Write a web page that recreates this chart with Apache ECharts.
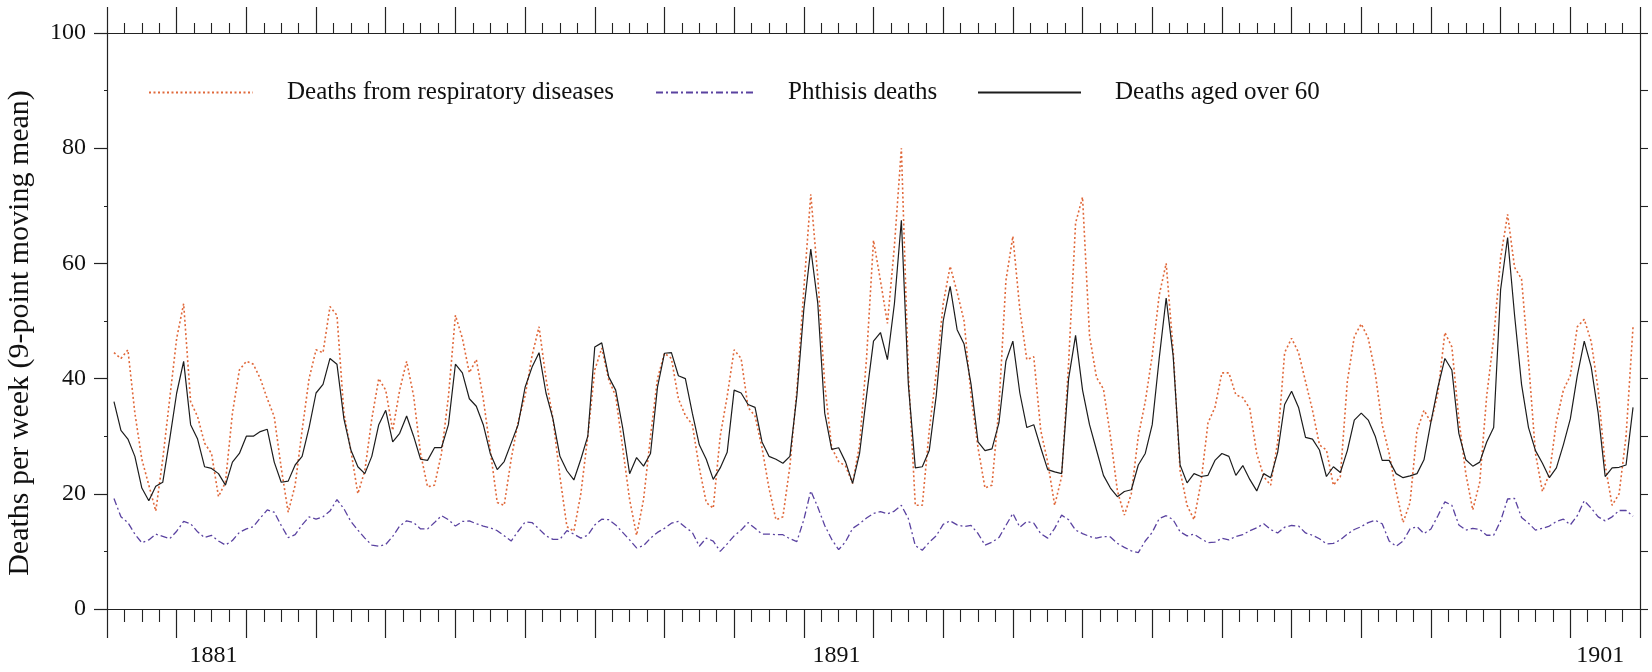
<!DOCTYPE html>
<html>
<head>
<meta charset="utf-8">
<title>Deaths per week</title>
<script src="https://cdn.jsdelivr.net/npm/echarts@6/dist/echarts.min.js"></script>
<style>
  html, body { margin: 0; padding: 0; background: #fff; }
  #chart { width: 1652px; height: 672px; }
</style>
</head>
<body>
<div id="chart"></div>
<script>
// weekly series sampled every 0.1 year, first sample at 1880.1
const startYear = 1880.1
const step = 0.1

const respiratory = [
  44.5, 43.5, 45, 34, 26, 21.5, 17, 26, 36.5, 47,
  53, 36, 33.4, 28.8, 27, 19.5, 22, 34, 41.5, 43,
  42.5, 40, 36.5, 33.4, 24.5, 16.8, 21.5, 31, 40, 45,
  44.5, 52.5, 51, 34, 27.5, 20, 24, 33, 40, 38,
  31, 38, 43, 37, 27, 21.2, 21.5, 27, 36.9, 51,
  47, 41, 43.3, 36.5, 27.6, 18.5, 18, 26, 32.5, 37,
  44, 49, 40, 33, 23, 14.3, 13.5, 20, 30, 41.5,
  45.3, 39.8, 37, 28, 19, 12.8, 19, 30, 40, 44.4,
  43.5, 36.5, 33.6, 32, 24.5, 18.5, 17.5, 30, 36.9, 45,
  43.5, 35, 33.5, 28, 21, 15.5, 16, 24.8, 38, 55.5,
  72, 57.7, 39, 28, 25.6, 24.8, 21.8, 28.5, 43.5, 64,
  57, 49.6, 63, 80, 41, 18, 18, 31, 41, 53,
  59.5, 55, 50, 37, 28, 21, 21.5, 35, 57, 64.7,
  52, 43.3, 43.8, 31, 25.5, 18, 23, 42.7, 67, 71.5,
  47.5, 40.2, 38.2, 30, 20.5, 16.3, 20, 30, 36, 44,
  54.5, 60, 45, 24, 18, 15.5, 22, 32.3, 35, 41,
  41, 37.2, 36.7, 34.8, 27, 23, 21.5, 29, 44.5, 47,
  44.5, 39.5, 34.5, 28.5, 27.6, 21.5, 23, 39.5, 47.3, 49.5,
  47, 41, 32, 27, 20.5, 15, 18.5, 31, 34.5, 32.4,
  37.5, 48, 45.5, 33, 23.5, 17.2, 22, 37, 47, 61,
  68.5, 59.3, 57.3, 43, 27, 20.4, 23.5, 32.5, 38, 40.5,
  49, 50.3, 46.4, 38, 25, 18, 20, 30, 49
]

const phthisis = [
  19.2, 16, 15, 13, 11.5, 12, 13, 12.6, 12.2, 13.5,
  15.2, 14.8, 13.4, 12.4, 12.8, 11.8, 11.1, 11.9, 13.3, 13.9,
  14.3, 15.8, 17.2, 16.8, 14.5, 12.4, 12.9, 14.6, 16, 15.6,
  16, 17, 19, 17.4, 15.2, 13.7, 12.3, 11.1, 10.9, 11.2,
  12.6, 14.4, 15.3, 15, 13.9, 13.9, 15, 16.2, 15.5, 14.4,
  15.2, 15.3, 14.8, 14.4, 14.1, 13.6, 12.7, 11.8, 13.5, 15.1,
  15, 13.9, 12.7, 12.1, 12.1, 13.6, 13, 12.3, 12.8, 14.6,
  15.6, 15.5, 14.6, 13.3, 12, 10.6, 11, 12.3, 13.3, 14,
  14.9, 15.2, 14.2, 13.3, 10.9, 12.3, 11.8, 10, 11.3, 12.7,
  13.7, 15, 14, 13, 13, 12.9, 12.9, 12.2, 11.7, 15.5,
  20.5, 17.7, 14.5, 12.1, 10.3, 11.7, 14, 14.8, 15.8, 16.6,
  16.9, 16.5, 17, 18, 15.7, 11, 10.2, 11.6, 12.7, 14.7,
  15.3, 14.6, 14.3, 14.5, 13.1, 11.1, 11.6, 12.4, 14.5, 16.6,
  14.2, 15.2, 14.9, 13.1, 12.3, 14, 16.3, 15.5, 13.7, 13.1,
  12.6, 12.3, 12.6, 12.5, 11.4, 10.7, 10.1, 9.8, 11.8, 13.3,
  15.7, 16.2, 15.5, 13.4, 12.7, 13, 12.2, 11.5, 11.6, 12.3,
  12, 12.6, 12.9, 13.6, 14.1, 14.8, 13.8, 13.2, 14.2, 14.5,
  14.4, 13.2, 12.8, 12.2, 11.3, 11.4, 12, 13, 13.8, 14.3,
  15, 15.4, 14.8, 11.8, 10.9, 11.8, 13.9, 14.3, 13.1, 13.9,
  16.2, 18.6, 18, 14.6, 13.7, 14, 13.8, 12.8, 12.8, 15.3,
  19.1, 19.2, 15.9, 14.9, 13.7, 14, 14.4, 15.2, 15.6, 14.6,
  16.2, 18.8, 17.5, 16, 15.3, 16, 17.1, 17.1, 16.1
]

const over60 = [
  36, 31, 29.5, 26.5, 21, 18.8, 21.3, 22, 29.5, 37.5,
  43, 32, 29.5, 24.7, 24.4, 23.5, 21.5, 25.5, 27, 30,
  30, 30.8, 31.2, 25.5, 22, 22.2, 25, 26.5, 31.5, 37.5,
  39, 43.5, 42.5, 33, 27.6, 24.7, 23.5, 26.5, 32, 34.5,
  29, 30.5, 33.5, 30, 26, 25.8, 28, 28, 32, 42.5,
  41, 36.5, 35.2, 32, 27, 24.2, 25.6, 28.8, 32, 38.5,
  42, 44.5, 37.5, 33, 26.5, 24, 22.4, 26, 30, 45.5,
  46.2, 40.3, 38, 31.5, 23.5, 26.3, 24.8, 27, 38.5, 44.4,
  44.5, 40.5, 40, 34, 28.5, 26, 22.5, 24.5, 27.2, 38,
  37.5, 35.5, 35, 29, 26.5, 26, 25.3, 26.5, 37, 52,
  62.5, 53.1, 34, 27.7, 28, 25.5, 21.8, 27, 37, 46.5,
  48, 43.3, 53, 67.5, 39, 24.5, 24.7, 27.5, 37, 50,
  56, 48.5, 46, 39, 29, 27.5, 27.8, 32.3, 43, 46.5,
  37.5, 31.5, 32, 28, 24.2, 23.8, 23.5, 40, 47.5, 38,
  32, 27.6, 23.2, 21, 19.5, 20.4, 20.7, 25, 27, 32,
  43.5, 54, 44, 25, 21.9, 23.5, 23, 23.2, 25.8, 27,
  26.5, 23.2, 24.9, 22.5, 20.5, 23.5, 22.8, 27.2, 35.5, 37.8,
  35, 29.8, 29.5, 27.6, 23, 24.7, 23.7, 27.5, 32.8, 34,
  32.8, 30, 25.8, 25.8, 23.5, 22.8, 23.1, 23.5, 25.9, 32.5,
  38.5, 43.5, 41.5, 30.5, 25.9, 24.8, 25.5, 29, 31.5, 55.5,
  64.5, 51, 39, 31.5, 27.5, 25.3, 22.8, 24.5, 28.5, 33,
  40.5, 46.5, 42, 34, 23, 24.5, 24.6, 25, 35
]

// year labels sit under the middle of a tick interval
const yearLabels = ['1881', '1891', '1901']
const yearLabelAt = [1881.53, 1890.47, 1901.43]

const seriesNames = ['Deaths from respiratory diseases', 'Phthisis deaths', 'Deaths aged over 60']

const font = '"Liberation Serif", "DejaVu Serif", serif'
const ink = '#222'

function pairs(values) {
  return values.map((v, i) => [Number((startYear + i * step).toFixed(2)), v])
}

const chart = echarts.init(document.getElementById('chart'))

const xBase = {
  type: 'value',
  min: 1880,
  max: 1902,
  interval: 1,
  splitLine: { show: false },
  axisLine: { show: true, onZero: false, lineStyle: { color: ink, width: 1.2 } },
  axisTick: { show: true, lineStyle: { color: ink, width: 1.2 } },
  minorTick: { show: true, splitNumber: 4, lineStyle: { color: ink, width: 1.1 } }
}

// legend line only, the marker is hidden
const legendBase = {
  orient: 'horizontal',
  top: 80,
  padding: 0,
  itemHeight: 20,
  itemStyle: { opacity: 0 },
  textStyle: { fontFamily: font, fontSize: 25, color: '#111', padding: [0, 0, 0, 29] }
}

chart.setOption({
  animation: false,
  backgroundColor: '#fff',
  // fixed plot box, the axis name must not push it
  grid: { left: 107, right: 12, top: 33, bottom: 63, outerBoundsMode: 'none' },
  legend: [
    Object.assign({}, legendBase, { data: [seriesNames[0]], left: 148, itemWidth: 104 }),
    Object.assign({}, legendBase, { data: [seriesNames[1]], left: 655, itemWidth: 98 }),
    Object.assign({}, legendBase, { data: [seriesNames[2]], left: 977, itemWidth: 103 })
  ],
  xAxis: [
    Object.assign({}, xBase, {
      position: 'bottom',
      axisTick: Object.assign({}, xBase.axisTick, { length: 29 }),
      minorTick: Object.assign({}, xBase.minorTick, { length: 13 }),
      axisLabel: {
        show: true,
        customValues: yearLabelAt,
        formatter: (v) => yearLabels[yearLabelAt.indexOf(v)] || '',
        margin: 35,
        fontFamily: font,
        fontSize: 24,
        color: '#111'
      }
    }),
    Object.assign({}, xBase, {
      position: 'top',
      axisTick: Object.assign({}, xBase.axisTick, { length: 26 }),
      minorTick: Object.assign({}, xBase.minorTick, { length: 10 }),
      axisLabel: { show: false }
    })
  ],
  yAxis: [
    {
      type: 'value',
      position: 'left',
      min: 0,
      max: 100,
      interval: 20,
      name: 'Deaths per week (9-point moving mean)',
      nameLocation: 'middle',
      nameGap: 72,
      nameRotate: 90,
      nameTextStyle: { fontFamily: font, fontSize: 30, color: '#111', padding: [0, 24, 0, 0] },
      splitLine: { show: false },
      axisLine: { show: true, lineStyle: { color: ink, width: 1.2 } },
      axisTick: { show: true, length: 13, lineStyle: { color: ink, width: 1.2 } },
      minorTick: { show: true, splitNumber: 2, length: 3, lineStyle: { color: ink } },
      axisLabel: { margin: 21, fontFamily: font, fontSize: 24, color: '#111' }
    },
    {
      type: 'value',
      position: 'right',
      min: 0,
      max: 100,
      interval: 10,
      splitLine: { show: false },
      axisLine: { show: true, lineStyle: { color: ink, width: 1.2 } },
      axisTick: { show: true, length: 8, lineStyle: { color: ink, width: 1.1 } },
      axisLabel: { show: false }
    }
  ],
  series: [
    {
      name: seriesNames[0],
      type: 'line',
      symbol: 'none',
      data: pairs(respiratory),
      lineStyle: { color: '#e0683a', width: 1.6, type: [2, 2.5] },
      itemStyle: { color: '#e0683a' },
      z: 2
    },
    {
      name: seriesNames[1],
      type: 'line',
      symbol: 'none',
      data: pairs(phthisis),
      lineStyle: { color: '#5a42a0', width: 1.3, type: [7, 3, 2, 3] },
      itemStyle: { color: '#5a42a0' },
      z: 3
    },
    {
      name: seriesNames[2],
      type: 'line',
      symbol: 'none',
      data: pairs(over60),
      lineStyle: { color: '#1c1c1c', width: 1.2 },
      itemStyle: { color: '#1c1c1c' },
      z: 4
    }
  ]
})
</script>
</body>
</html>
